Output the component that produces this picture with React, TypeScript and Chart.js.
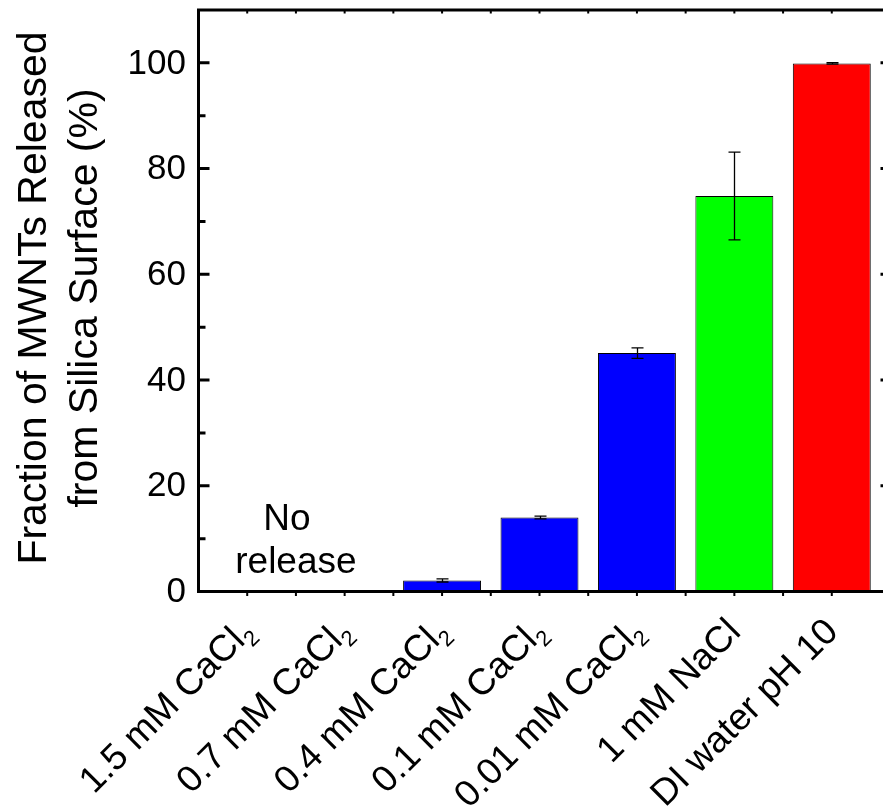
import React, { useEffect, useRef } from 'react';
import { Chart, registerables } from 'chart.js';

Chart.register(...registerables);

const categories = ['1.5 mM CaCl', '0.7 mM CaCl', '0.4 mM CaCl', '0.1 mM CaCl', '0.01 mM CaCl', '1 mM NaCl', 'DI water pH 10'];
const subscripts = ['2', '2', '2', '2', '2', '', ''];
const values = [0, 0, 2.1, 14.0, 45.1, 74.8, 99.9];
const errors = [0, 0, 0.3, 0.25, 1.0, 8.3, 0.15];
const barColors = ['#0000FF', '#0000FF', '#0000FF', '#0000FF', '#0000FF', '#00FF00', '#FF0000'];
const yTicks = [0, 20, 40, 60, 80, 100];
const yMinorTicks = [10, 30, 50, 70, 90];
const yTitle = ['Fraction of MWNTs Released', 'from Silica Surface (%)'];
const noteLines = ['No', 'release'];

const FONT = '"Liberation Sans", Arial, Helvetica, sans-serif';
const W = 883;
const H = 806;

export default function App() {
  const ref = useRef<HTMLCanvasElement>(null);

  useEffect(() => {
    const canvas = ref.current;
    if (!canvas) return;

    const overlay = {
      id: 'overlay',
      afterDatasetsDraw(chart: any) {
        const { ctx, chartArea: a, scales } = chart;
        const x = scales.x;
        const y = scales.y;
        ctx.save();
        // error bars
        ctx.strokeStyle = '#000';
        ctx.lineWidth = 1.3;
        values.forEach((v, i) => {
          const e = errors[i];
          if (!e) return;
          const px = Math.round(x.getPixelForValue(i)) + 0.5;
          const top = y.getPixelForValue(v + e);
          const bot = y.getPixelForValue(v - e);
          ctx.beginPath();
          ctx.moveTo(px, top);
          ctx.lineTo(px, bot);
          ctx.moveTo(px - 6, top);
          ctx.lineTo(px + 6, top);
          ctx.moveTo(px - 6, bot);
          ctx.lineTo(px + 6, bot);
          ctx.stroke();
        });

        // frame
        ctx.lineWidth = 3;
        ctx.beginPath();
        ctx.moveTo(a.left, a.top - 1.5);
        ctx.lineTo(a.left, a.bottom + 1.5);
        ctx.moveTo(a.left - 1.5, a.top);
        ctx.lineTo(W + 5, a.top);
        ctx.moveTo(a.left - 1.5, a.bottom);
        ctx.lineTo(W + 5, a.bottom);
        ctx.stroke();

        // left ticks (inward)
        ctx.beginPath();
        yTicks.forEach((v) => {
          const py = y.getPixelForValue(v);
          ctx.moveTo(a.left, py);
          ctx.lineTo(a.left + 11, py);
        });
        yMinorTicks.forEach((v) => {
          const py = y.getPixelForValue(v);
          ctx.moveTo(a.left, py);
          ctx.lineTo(a.left + 7, py);
        });
        // right ticks (ends visible only)
        yTicks.forEach((v) => {
          const py = y.getPixelForValue(v);
          ctx.moveTo(a.right, py);
          ctx.lineTo(W + 5, py);
        });
        ctx.stroke();

        // top and bottom small ticks at half-category steps
        ctx.lineWidth = 2;
        const slot = (a.right - a.left) / categories.length;
        ctx.beginPath();
        for (let k = 1; k < categories.length * 2; k++) {
          const px = a.left + (k * slot) / 2;
          ctx.moveTo(px, a.top);
          ctx.lineTo(px, a.top + 3.5);
          ctx.moveTo(px, a.bottom);
          ctx.lineTo(px, a.bottom + 4.5);
        }
        ctx.stroke();
        ctx.restore();
      },
      afterDraw(chart: any) {
        const { ctx, chartArea: a, scales } = chart;
        const x = scales.x;
        const y = scales.y;
        ctx.save();
        ctx.fillStyle = '#000';

        // y tick labels
        ctx.font = `35px ${FONT}`;
        ctx.textAlign = 'right';
        ctx.textBaseline = 'middle';
        yTicks.forEach((v) => {
          ctx.fillText(String(v), a.left - 12.5, y.getPixelForValue(v) + 1);
        });

        // y axis title
        ctx.font = `41px ${FONT}`;
        ctx.textAlign = 'center';
        ctx.textBaseline = 'alphabetic';
        const cy = 298;
        const baselines = [46, 97];
        yTitle.forEach((t, i) => {
          ctx.save();
          ctx.translate(baselines[i], cy);
          ctx.rotate(-Math.PI / 2);
          ctx.fillText(t, 0, 0);
          ctx.restore();
        });

        // x labels rotated 45deg with subscripts
        categories.forEach((t, i) => {
          const px = x.getPixelForValue(i);
          const sub = subscripts[i];
          ctx.save();
          ctx.translate(px + 8, a.bottom + 42);
          ctx.rotate(-Math.PI / 4);
          ctx.textAlign = 'left';
          ctx.textBaseline = 'alphabetic';
          ctx.font = `22px ${FONT}`;
          const w2 = sub ? ctx.measureText(sub).width : 0;
          ctx.font = `37px ${FONT}`;
          const w1 = ctx.measureText(t).width;
          ctx.fillText(t, -(w1 + w2), 0);
          if (sub) {
            ctx.font = `22px ${FONT}`;
            ctx.fillText(sub, -w2, 8);
          }
          ctx.restore();
        });

        // "No release" note
        ctx.font = `37px ${FONT}`;
        ctx.textAlign = 'center';
        ctx.textBaseline = 'alphabetic';
        const mid = (x.getPixelForValue(0) + x.getPixelForValue(1)) / 2;
        ctx.fillText(noteLines[0], mid - 9, y.getPixelForValue(11.6));
        ctx.fillText(noteLines[1], mid, y.getPixelForValue(3.5));
        ctx.restore();
      },
    };

    const chart = new Chart(canvas, {
      type: 'bar',
      data: {
        labels: categories,
        datasets: [
          {
            data: values,
            backgroundColor: barColors,
            borderColor: '#000',
            borderWidth: 1,
            barPercentage: 0.8,
            categoryPercentage: 1.0,
            borderSkipped: false,
          },
        ],
      },
      options: {
        responsive: false,
        animation: false,
        devicePixelRatio: 1,
        layout: { padding: { top: 10, right: 2.5, left: 0, bottom: 0 } },
        plugins: { legend: { display: false }, tooltip: { enabled: false }, title: { display: false } },
        scales: {
          x: {
            type: 'category',
            offset: true,
            grid: { display: false, drawTicks: false },
            border: { display: false },
            ticks: { display: false },
            afterFit: (s: any) => {
              s.height = H - 591.5;
            },
          },
          y: {
            type: 'linear',
            min: 0,
            max: 110,
            grid: { display: false, drawTicks: false },
            border: { display: false },
            ticks: { display: false },
            afterFit: (s: any) => {
              s.width = 198.5;
            },
          },
        },
      },
      plugins: [overlay],
    });

    return () => chart.destroy();
  }, []);

  return (
    <div style={{ position: 'fixed', left: 0, top: 0, width: W, height: H, overflow: 'hidden', background: '#fff' }}>
      <canvas ref={ref} width={W} height={H} style={{ display: 'block' }} />
    </div>
  );
}
